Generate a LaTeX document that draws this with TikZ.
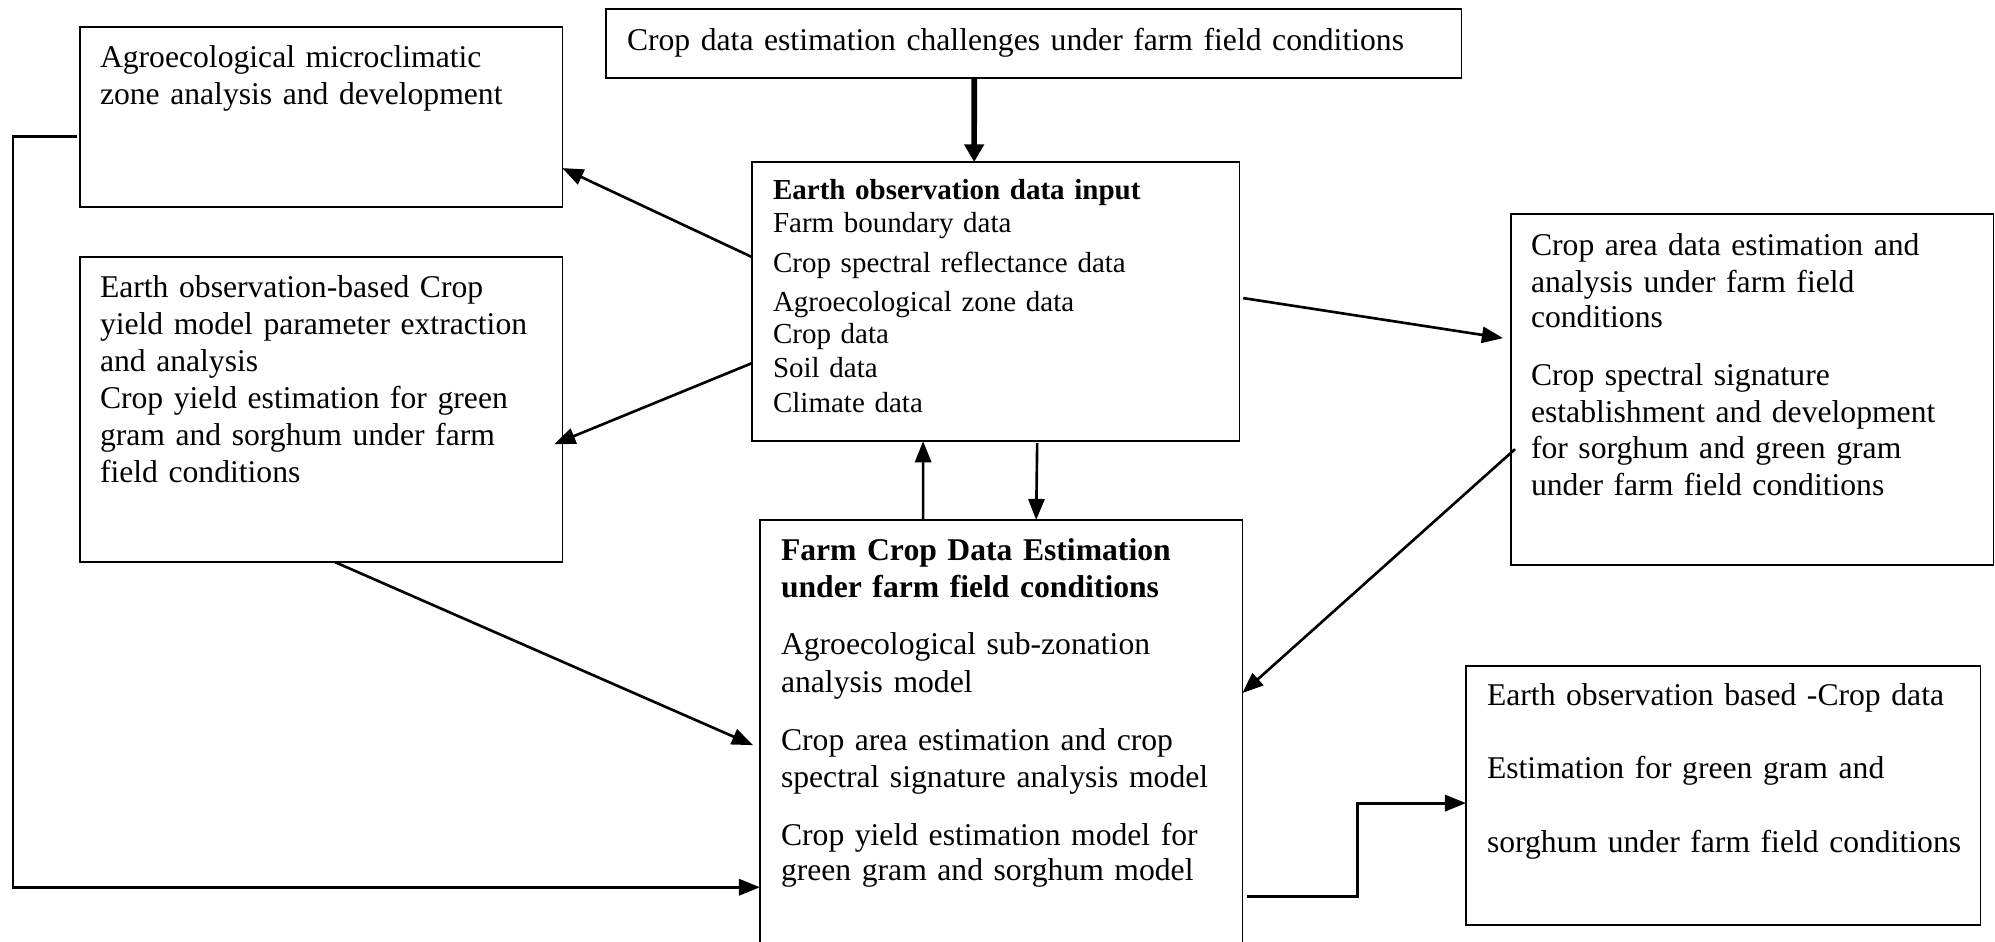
\documentclass[tikz,border=0pt]{standalone}
\usepackage{fontspec}
\setmainfont{Liberation Serif}
\usetikzlibrary{arrows.meta,calc}

\begin{document}
\begin{tikzpicture}[x=0.01cm,y=-0.01cm,
  box/.style={draw, line width=0.45pt, inner sep=0pt, outer sep=0pt, anchor=north west},
  txt/.style={inner sep=0pt, outer sep=0pt, anchor=base west, align=left, text width=11cm,
              font=\fontsize{9.0pt}{10.53pt}\selectfont},
  small/.style={font=\fontsize{8.25pt}{9.39pt}\selectfont},
  tip/.style={-{Triangle[length=6pt,width=4.6pt]}},
  link/.style={line width=0.75pt, tip},
  heavy/.style={line width=1.6pt, -{Triangle[length=5pt,width=5.4pt]}},
  wire/.style={line width=0.85pt}
]
\useasboundingbox (0,0) rectangle (1995,941);
\clip (0,0) rectangle (1995,941);

% boxes
\node[box, minimum width=8.55cm, minimum height=0.69cm] (top)    at (606,9)    {};
\node[box, minimum width=4.82cm, minimum height=1.80cm] (agro)   at (80,27)    {};
\node[box, minimum width=4.82cm, minimum height=3.05cm] (yield)  at (80,257)   {};
\node[box, minimum width=4.87cm, minimum height=2.79cm] (eo)     at (752,162)  {};
\node[box, minimum width=4.82cm, minimum height=4.50cm] (farm)   at (760,520)  {};
\node[box, minimum width=4.82cm, minimum height=3.51cm] (crop)   at (1511,214) {};
\node[box, minimum width=5.14cm, minimum height=2.59cm] (output) at (1466,666) {};

% box texts
\node[txt] (topT) at ([xshift=0.21cm, yshift=-0.41cm]top.north west)
  {Crop data estimation challenges under farm field conditions};
\node[txt] (agroT) at ([xshift=0.20cm, yshift=-0.40cm]agro.north west)
  {Agroecological microclimatic\\zone analysis and development};
\node[txt] (yieldT) at ([xshift=0.20cm, yshift=-0.40cm]yield.north west)
  {Earth observation-based Crop\\yield model parameter extraction\\and analysis\\Crop yield estimation for green\\gram and sorghum under farm\\field conditions};
\node[txt, small] (eoT) at ([xshift=0.21cm, yshift=-0.37cm]eo.north west)
  {\textbf{Earth observation data input}\\Farm boundary data\\[1.99pt]Crop spectral reflectance data\\[1.71pt]Agroecological zone data\\[-0.28pt]Crop data\\[0.28pt]Soil data\\[0.57pt]Climate data};
\node[txt] (farmT) at ([xshift=0.21cm, yshift=-0.40cm]farm.north west)
  {\textbf{Farm Crop Data Estimation}\\\textbf{under farm field conditions}\\[5.69pt]Agroecological sub-zonation\\[0.28pt]analysis model\\[5.97pt]Crop area estimation and crop\\spectral signature analysis model\\[5.97pt]Crop yield estimation model for\\[-0.57pt]green gram and sorghum model};
\node[txt] (cropT) at ([xshift=0.20cm, yshift=-0.41cm]crop.north west)
  {Crop area data estimation and\\analysis under farm field\\[-0.57pt]conditions\\[5.97pt]Crop spectral signature\\establishment and development\\[-0.28pt]for sorghum and green gram\\under farm field conditions};
\node[txt] (outputT) at ([xshift=0.21cm, yshift=-0.39cm]output.north west)
  {Earth observation based -Crop data\\[10.24pt]Estimation for green gram and\\[10.53pt]sorghum under farm field conditions};

% connectors
\draw[heavy] ([xshift=3.68cm]top.south west) -- ([xshift=2.22cm]eo.north west);
\draw[link] ([yshift=-0.95cm]eo.north west) -- ([yshift=-1.41cm]agro.north east);
\draw[link] ([yshift=-2.01cm]eo.north west) -- ([xshift=-0.08cm, yshift=-1.87cm]yield.north east);
\draw[link] ([xshift=2.55cm]yield.south west) -- ([xshift=-0.07cm, yshift=-2.25cm]farm.north west);
\coordinate (fb) at (13,500);
\draw[wire, tip]
  ([xshift=-0.03cm, yshift=-1.09cm]agro.north west) -| (fb) |- ([yshift=-3.67cm]farm.north west);
\draw[link] ([xshift=1.63cm]farm.north west) -- ([xshift=1.71cm]eo.south west);
\draw[link] ([xshift=2.85cm, yshift=-0.02cm]eo.south west) -- ([xshift=2.76cm]farm.north west);
\draw[link] ([xshift=0.04cm, yshift=-1.36cm]eo.north east) -- ([xshift=-0.08cm, yshift=-1.24cm]crop.north west);
\draw[link] ([xshift=0.04cm, yshift=-2.35cm]crop.north west) -- ([yshift=-1.73cm]farm.north east);
\draw[wire, tip] ([xshift=0.05cm, yshift=-3.76cm]farm.north east) -- ++(1.10cm,0) |- ([yshift=-1.37cm]output.north west);
\end{tikzpicture}
\end{document}
